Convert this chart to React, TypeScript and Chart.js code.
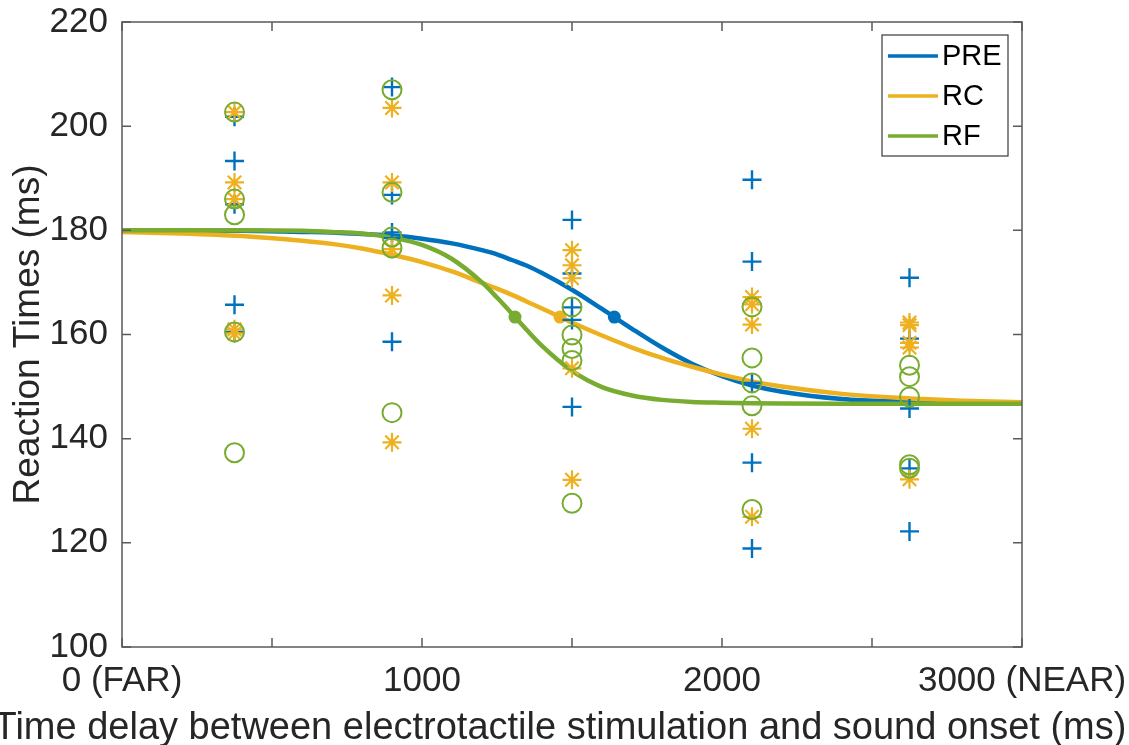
import React, { useEffect, useRef } from 'react';
import { Chart, registerables } from 'chart.js';

Chart.register(...registerables);

const BLUE = '#0072BD';
const ORANGE = '#EDB120';
const GREEN = '#77AC30';
const INK = '#262626';
const FONT = "'Liberation Sans', Arial, sans-serif";

// Time delays (ms) at which reaction times were measured
const DELAYS = [375, 900, 1500, 2100, 2625];

// Individual reaction times (ms), one inner array per delay
const PRE_RT = [
  [201.8, 193.3, 185.0, 165.7, 160.5],
  [207.5, 186.8, 179.6, 178.5, 158.6],
  [182.0, 171.7, 165.2, 162.8, 146.1],
  [189.7, 174.0, 150.7, 135.4, 118.9],
  [170.9, 159.2, 145.8, 134.3, 122.2],
];
const RC_RT = [
  [202.7, 189.2, 186.0, 161.0, 160.2],
  [203.5, 189.2, 176.4, 167.5, 139.3],
  [176.2, 173.3, 170.8, 153.5, 132.1],
  [167.2, 165.8, 161.9, 141.9, 125.0],
  [162.3, 161.8, 158.4, 157.5, 132.2],
];
const RF_RT = [
  [202.7, 186.0, 183.0, 160.5, 137.3],
  [207.0, 187.3, 178.7, 176.6, 145.0],
  [165.3, 159.9, 157.3, 155.0, 127.6],
  [165.3, 155.5, 150.7, 146.3, 126.4],
  [154.1, 151.9, 148.0, 135.0, 134.3],
];

// Fitted curves at these delays
const CURVE_X = [0, 200, 400, 600, 700, 800, 900, 1000, 1100, 1200, 1250, 1300, 1350, 1400, 1500, 1600, 1700, 1800, 1900, 2000, 2100, 2200, 2400, 2600, 2800, 3000];
const PRE_FIT = [180.0, 180.0, 179.9, 179.7, 179.6, 179.3, 179.0, 178.4, 177.5, 176.2, 175.4, 174.3, 173.2, 171.8, 168.6, 164.9, 161.1, 157.5, 154.4, 152.0, 150.2, 149.0, 147.6, 147.1, 146.85, 146.75];
const RC_FIT = [179.7, 179.4, 178.9, 178.0, 177.4, 176.5, 175.3, 173.9, 172.1, 169.9, 168.8, 167.6, 166.3, 165.0, 162.3, 159.8, 157.5, 155.5, 153.8, 152.3, 151.0, 150.0, 148.6, 147.8, 147.3, 147.0];
const RF_FIT = [180.0, 180.0, 180.0, 179.9, 179.7, 179.4, 178.6, 177.2, 174.5, 170.0, 167.1, 164.0, 160.8, 157.8, 153.0, 149.9, 148.3, 147.45, 147.05, 146.9, 146.8, 146.75, 146.7, 146.7, 146.7, 146.7];

// Curve midpoints (PRE, RC, RF)
const MID_X = [1641, 1460, 1310];
const MID_Y = [163.35, 163.35, 163.35];

const SERIES_LABELS = ['PRE', 'RC', 'RF'];
const X_TICK_LABELS: Record<number, string> = { 0: '0 (FAR)', 1000: '1000', 2000: '2000', 3000: '3000 (NEAR)' };
const X_TITLE = 'Time delay between electrotactile stimulation and sound onset (ms)';
const Y_TITLE = 'Reaction Times (ms)';

const toScatter = (groups: number[][]) =>
  groups.flatMap((vals, i) => vals.map((v) => ({ x: DELAYS[i], y: v })));
const toCurve = (vals: number[]) => CURVE_X.map((x, i) => ({ x, y: vals[i] }));

const framePlugin = {
  id: 'frame',
  afterDraw(chart: any) {
    const { ctx, chartArea: a, scales } = chart;
    const xs = scales.x;
    const ys = scales.y;
    const TICK = 9;
    ctx.save();
    ctx.strokeStyle = '#5a5a5a';
    ctx.lineWidth = 1.5;
    ctx.strokeRect(a.left, a.top, a.right - a.left, a.bottom - a.top);
    ctx.beginPath();
    xs.ticks.forEach((t: any) => {
      const px = xs.getPixelForValue(t.value);
      ctx.moveTo(px, a.bottom);
      ctx.lineTo(px, a.bottom - TICK);
      ctx.moveTo(px, a.top);
      ctx.lineTo(px, a.top + TICK);
    });
    ys.ticks.forEach((t: any) => {
      const py = ys.getPixelForValue(t.value);
      ctx.moveTo(a.left, py);
      ctx.lineTo(a.left + TICK, py);
      ctx.moveTo(a.right, py);
      ctx.lineTo(a.right - TICK, py);
    });
    ctx.stroke();

    // x axis title
    ctx.fillStyle = INK;
    ctx.font = `38px ${FONT}`;
    ctx.textAlign = 'center';
    ctx.textBaseline = 'alphabetic';
    ctx.fillText(X_TITLE, 560, 739);

    // y axis title
    ctx.font = `37px ${FONT}`;
    ctx.textBaseline = 'middle';
    ctx.translate(29, (a.top + a.bottom) / 2);
    ctx.rotate(-Math.PI / 2);
    ctx.fillText(Y_TITLE, 0, 0);
    ctx.setTransform(1, 0, 0, 1, 0, 0);

    // legend
    const bx = a.right - 140;
    const by = a.top + 13;
    const bw = 126;
    const bh = 121;
    ctx.fillStyle = '#ffffff';
    ctx.fillRect(bx, by, bw, bh);
    ctx.strokeStyle = '#3a3a3a';
    ctx.lineWidth = 1.2;
    ctx.strokeRect(bx, by, bw, bh);
    const colors = [BLUE, ORANGE, GREEN];
    ctx.font = `29px ${FONT}`;
    ctx.textAlign = 'left';
    ctx.textBaseline = 'middle';
    SERIES_LABELS.forEach((lab, i) => {
      const yy = by + 21 + i * 40;
      ctx.strokeStyle = colors[i];
      ctx.lineWidth = 3.5;
      ctx.beginPath();
      ctx.moveTo(bx + 6, yy);
      ctx.lineTo(bx + 56, yy);
      ctx.stroke();
      ctx.fillStyle = '#000000';
      ctx.fillText(lab, bx + 60, yy + 1);
    });
    ctx.restore();
  },
};

export default function App() {
  const ref = useRef<HTMLCanvasElement>(null);

  useEffect(() => {
    document.body.style.margin = '0';
    const canvas = ref.current!;
    const curveCommon = {
      type: 'line' as const,
      showLine: true,
      borderWidth: 4.5,
      pointRadius: 0,
      pointHoverRadius: 0,
      fill: false,
      cubicInterpolationMode: 'monotone' as const,
    };
    const chart = new Chart(canvas, {
      type: 'scatter',
      data: {
        datasets: [
          {
            label: 'RF data',
            data: toScatter(RF_RT),
            pointStyle: 'circle',
            pointRadius: 9.5,
            pointBorderWidth: 2,
            borderColor: GREEN,
            backgroundColor: 'rgba(0,0,0,0)',
            order: 0,
          },
          {
            label: 'RC data',
            data: toScatter(RC_RT),
            pointStyle: 'star',
            pointRadius: 9.5,
            pointBorderWidth: 2.2,
            borderColor: ORANGE,
            backgroundColor: ORANGE,
            order: 1,
          },
          {
            label: 'PRE data',
            data: toScatter(PRE_RT),
            pointStyle: 'cross',
            pointRadius: 9.5,
            pointBorderWidth: 2.4,
            borderColor: BLUE,
            backgroundColor: BLUE,
            order: 2,
          },
          {
            label: 'midpoints',
            data: MID_X.map((x, i) => ({ x, y: MID_Y[i] })),
            pointStyle: 'circle',
            pointRadius: 6.5,
            pointBorderWidth: 0,
            pointBackgroundColor: [BLUE, ORANGE, GREEN],
            pointBorderColor: [BLUE, ORANGE, GREEN],
            order: 3,
          },
          { ...curveCommon, label: SERIES_LABELS[2], data: toCurve(RF_FIT), borderColor: GREEN, order: 4 },
          { ...curveCommon, label: SERIES_LABELS[1], data: toCurve(RC_FIT), borderColor: ORANGE, order: 5 },
          { ...curveCommon, label: SERIES_LABELS[0], data: toCurve(PRE_FIT), borderColor: BLUE, order: 6 },
        ] as any,
      },
      options: {
        responsive: false,
        animation: false,
        devicePixelRatio: 1,
        layout: { padding: { left: 0, top: 22, right: 107, bottom: 0 } },
        plugins: {
          legend: { display: false },
          tooltip: { enabled: false },
        },
        scales: {
          x: {
            type: 'linear',
            min: 0,
            max: 3000,
            grid: { display: false, drawTicks: false },
            border: { display: false },
            ticks: {
              stepSize: 500,
              autoSkip: false,
              maxRotation: 0,
              minRotation: 0,
              padding: 13,
              color: INK,
              font: { family: FONT, size: 35 },
              callback: (v: any) => X_TICK_LABELS[Number(v)] ?? '',
            },
            afterFit: (s: any) => {
              s.height = 98;
              s.paddingLeft = 0;
              s.paddingRight = 0;
            },
          },
          y: {
            type: 'linear',
            min: 100,
            max: 220,
            grid: { display: false, drawTicks: false },
            border: { display: false },
            ticks: {
              stepSize: 20,
              padding: 14,
              color: INK,
              font: { family: FONT, size: 35 },
            },
            afterFit: (s: any) => {
              s.width = 122;
              s.paddingTop = 0;
              s.paddingBottom = 0;
            },
          },
        },
      },
      plugins: [framePlugin],
    });
    return () => chart.destroy();
  }, []);

  return <canvas ref={ref} width={1129} height={745} style={{ display: 'block' }} />;
}
